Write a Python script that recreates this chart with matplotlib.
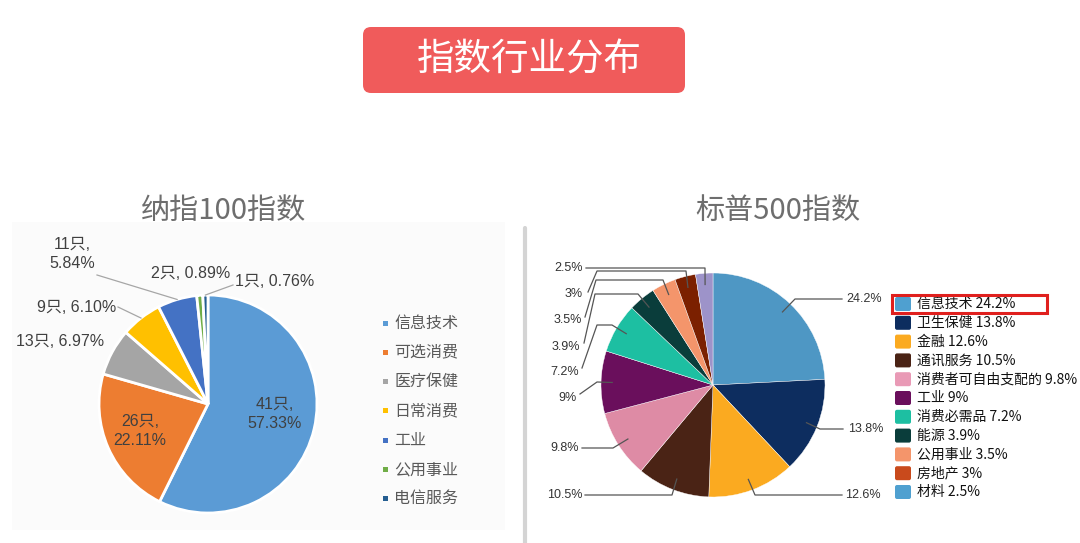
import numpy as np
import matplotlib
matplotlib.use("Agg")
import matplotlib.pyplot as plt
from matplotlib.patches import FancyBboxPatch, Rectangle

plt.rcParams['font.family'] = ['Noto Sans CJK SC', 'DejaVu Sans']

# ---------------- data ----------------
title = "指数行业分布"
left_title = "纳指100指数"
right_title = "标普500指数"

ndx_sectors = ["信息技术", "可选消费", "医疗保健", "日常消费", "工业", "公用事业", "电信服务"]
ndx_counts = [41, 26, 13, 9, 11, 2, 1]
ndx_pcts = [57.33, 22.11, 6.97, 6.10, 5.84, 0.89, 0.76]
ndx_colors = ["#5B9BD5", "#ED7D31", "#A5A5A5", "#FFC000", "#4472C4", "#70AD47", "#255E91"]

spx_sectors = ["信息技术", "卫生保健", "金融", "通讯服务", "消费者可自由支配的", "工业",
               "消费必需品", "能源", "公用事业", "房地产", "材料"]
spx_pcts = [24.2, 13.8, 12.6, 10.5, 9.8, 9, 7.2, 3.9, 3.5, 3, 2.5]
spx_pct_labels = ["24.2%", "13.8%", "12.6%", "10.5%", "9.8%", "9%", "7.2%", "3.9%", "3.5%", "3%", "2.5%"]
spx_colors = ["#4E97C4", "#0D2D5F", "#FBAA20", "#4A2315", "#DE8BA5", "#6A0F5C",
              "#1DBFA2", "#0A3D3B", "#F4956B", "#7B2000", "#9D93C9"]
spx_legend_colors = ["#4FA0D0", "#0D2D5F", "#FBAA20", "#4A2315", "#E99AB6", "#6A0F5C",
                     "#1DBFA2", "#0A3D3B", "#F4956B", "#C94A1C", "#4FA0D0"]

# ---------------- layout ----------------
W, H = 1080, 543
fig = plt.figure(figsize=(10.8, 5.43), dpi=100)
ax = fig.add_axes([0, 0, 1, 1])


def Y(y):
    return H - y


# panel background + divider
ax.add_patch(Rectangle((12, Y(530)), 493, 308, facecolor="#fbfbfb", edgecolor="none", zorder=0))
ax.plot([525, 525], [Y(228), Y(543)], color="#d4d4d4", lw=3, solid_capstyle="round", zorder=1)

# title box
ax.add_patch(FancyBboxPatch((363, Y(93)), 322, 66, boxstyle="round,pad=0,rounding_size=8",
                            facecolor="#F05B5B", edgecolor="none", zorder=2))
ax.text(529, Y(60), title, color="white", fontsize=27, ha="center", va="center", zorder=3)

ax.text(224, Y(211), left_title, color="#6e6e6e", fontsize=21, ha="center", va="center")
ax.text(778, Y(211), right_title, color="#6e6e6e", fontsize=21, ha="center", va="center")

# ---------------- left pie ----------------
lc = (208, Y(404))
lr = 109
wedges, _ = ax.pie(ndx_pcts, colors=ndx_colors, startangle=90, counterclock=False,
                   center=lc, radius=lr, frame=True,
                   wedgeprops=dict(edgecolor="white", linewidth=2))


def mid_angle(vals, i):
    cum = np.cumsum([0] + list(vals))
    frac = (cum[i] + vals[i] / 2.0) / cum[-1]
    return np.deg2rad(90 - 360 * frac)


def pt(center, r, ang):
    return center[0] + r * np.cos(ang), center[1] + r * np.sin(ang)


lbl_color = "#404040"
ndx_lbl = [f"{c}只,\n{p:.2f}%" if i in (0, 1, 4) else f"{c}只, {p:.2f}%"
           for i, (c, p) in enumerate(zip(ndx_counts, ndx_pcts))]
# label positions (layout)
ndx_pos = [(275, 414), (140, 431), (60, 341), (77, 307), (72, 254), (191, 273), (275, 281)]
for i, (txt, (x, y)) in enumerate(zip(ndx_lbl, ndx_pos)):
    ax.text(x, Y(y), txt, fontsize=11.5, color=lbl_color, ha="center", va="center",
            linespacing=1.3, family=["Liberation Sans", "Noto Sans CJK SC"])

# leader lines left
for i, start in [(4, (97, 275)), (3, (118, 307)), (6, (233, 285))]:
    ex, ey = pt(lc, lr, mid_angle(ndx_pcts, i))
    ax.plot([start[0], ex], [Y(start[1]), ey], color="#a6a6a6", lw=0.9, zorder=5)

# left legend
for i, (name, col) in enumerate(zip(ndx_sectors, ndx_colors)):
    yy = Y(323 + i * 29.3)
    ax.add_patch(Rectangle((383, yy - 2.5), 5, 5, facecolor=col, edgecolor="none"))
    ax.text(394, yy, name, fontsize=11.5, color="#595959", ha="left", va="center")

# ---------------- right pie ----------------
rc = (713, Y(385))
rr = 112
ax.pie(spx_pcts, colors=spx_colors, startangle=90, counterclock=False,
       center=rc, radius=rr, frame=True,
       wedgeprops=dict(edgecolor="white", linewidth=0.3))

# label text positions & leader bends (layout)
right_lbl = {0: ((846, 299), "left", [(795, 299), (842, 299)]),
             1: ((848, 429), "left", [(820, 429), (843, 429)]),
             2: ((845, 495), "left", [(755, 495), (842, 495)]),
             3: ((583, 495), "right", [(672, 495), (585, 495)]),
             4: ((579, 448), "right", [(613, 448), (582, 448)]),
             5: ((577, 398), "right", [(597, 382), (580, 394)]),
             6: ((579, 372), "right", [(612, 325), (597, 325), (582, 368)]),
             7: ((580, 347), "right", [(638, 294), (595, 294), (584, 343)]),
             8: ((582, 320), "right", [(663, 280), (596, 280), (585, 317)]),
             9: ((583, 294), "right", [(686, 271), (597, 271), (588, 292)]),
             10: ((583, 268), "right", [(705, 268), (586, 268)])}
for i, ((tx, ty), ha, bends) in right_lbl.items():
    ax_, ay_ = pt(rc, rr * 0.9, mid_angle(spx_pcts, i))
    xs = [ax_] + [b[0] for b in bends]
    ys = [ay_] + [Y(b[1]) for b in bends]
    ax.plot(xs, ys, color="#555555", lw=0.9, zorder=5)
    ax.text(tx, Y(ty), spx_pct_labels[i], fontsize=9, color="#333333", ha=ha, va="center",
            family=["Liberation Sans", "DejaVu Sans"])

# right legend
for i, (name, col, p) in enumerate(zip(spx_sectors, spx_legend_colors, spx_pct_labels)):
    yy = Y(304 + i * 18.8)
    ax.add_patch(FancyBboxPatch((895, yy - 7), 16, 14, boxstyle="round,pad=0,rounding_size=2",
                                facecolor=col, edgecolor="none"))
    ax.text(917, yy, f"{name} {p}", fontsize=10, color="#111111", ha="left", va="center")

ax.add_patch(Rectangle((892, Y(313)), 155, 18, facecolor="none", edgecolor="#E0201E", lw=2.2, zorder=6))

ax.set_xlim(0, W)
ax.set_ylim(0, H)
ax.set_aspect("equal")
ax.axis("off")
fig.savefig("out.png", dpi=100)
